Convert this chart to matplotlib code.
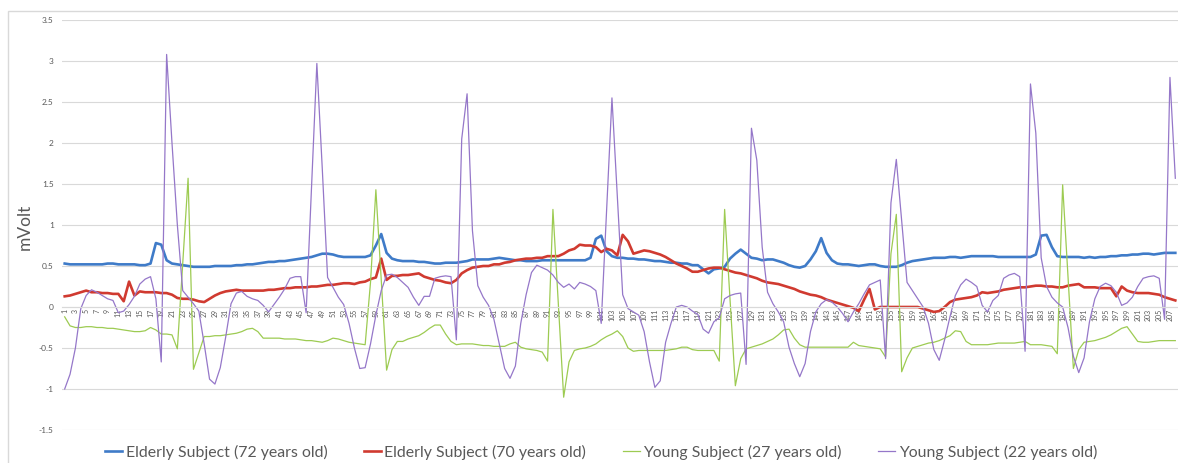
import matplotlib
matplotlib.use("Agg")
import matplotlib.pyplot as plt
from matplotlib.patches import Rectangle

plt.rcParams["font.family"] = ["Lato", "DejaVu Sans"]

# sample index (x categories)
samples = list(range(1, 209))

elderly_72 = [
    0.53, 0.52, 0.52, 0.52, 0.52, 0.52, 0.52, 0.52, 0.53, 0.53,
    0.52, 0.52, 0.52, 0.52, 0.51, 0.51, 0.53, 0.78, 0.76, 0.57,
    0.53, 0.52, 0.51, 0.50, 0.49, 0.49, 0.49, 0.49, 0.50, 0.50,
    0.50, 0.50, 0.51, 0.51, 0.52, 0.52, 0.53, 0.54, 0.55, 0.55,
    0.56, 0.56, 0.57, 0.58, 0.59, 0.60, 0.61, 0.63, 0.65, 0.65,
    0.64, 0.62, 0.61, 0.61, 0.61, 0.61, 0.61, 0.63, 0.75, 0.89,
    0.66, 0.59, 0.57, 0.56, 0.56, 0.56, 0.55, 0.55, 0.54, 0.53,
    0.53, 0.54, 0.54, 0.54, 0.55, 0.56, 0.58, 0.58, 0.58, 0.58,
    0.59, 0.60, 0.59, 0.58, 0.57, 0.57, 0.56, 0.56, 0.56, 0.57,
    0.57, 0.57, 0.57, 0.57, 0.57, 0.57, 0.57, 0.57, 0.60, 0.83,
    0.87, 0.68, 0.62, 0.60, 0.60, 0.59, 0.59, 0.58, 0.58, 0.57,
    0.56, 0.56, 0.55, 0.54, 0.54, 0.53, 0.53, 0.51, 0.51, 0.46,
    0.41, 0.46, 0.47, 0.49, 0.59, 0.65, 0.70, 0.65, 0.60, 0.59,
    0.57, 0.58, 0.58, 0.56, 0.54, 0.51, 0.49, 0.48, 0.50, 0.58,
    0.68, 0.84, 0.66, 0.57, 0.53, 0.52, 0.52, 0.51, 0.50, 0.51,
    0.52, 0.52, 0.50, 0.49, 0.49, 0.49, 0.51, 0.54, 0.56, 0.57,
    0.58, 0.59, 0.60, 0.60, 0.60, 0.61, 0.61, 0.60, 0.61, 0.62,
    0.62, 0.62, 0.62, 0.62, 0.61, 0.61, 0.61, 0.61, 0.61, 0.61,
    0.61, 0.64, 0.87, 0.88, 0.73, 0.62, 0.61, 0.61, 0.61, 0.61,
    0.60, 0.61, 0.60, 0.61, 0.61, 0.62, 0.62, 0.63, 0.63, 0.64,
    0.64, 0.65, 0.65, 0.64, 0.65, 0.66, 0.66, 0.66,
]

elderly_70 = [
    0.13, 0.14, 0.16, 0.18, 0.20, 0.18, 0.18, 0.17, 0.17, 0.16,
    0.16, 0.07, 0.31, 0.14, 0.19, 0.18, 0.18, 0.18, 0.17, 0.17,
    0.15, 0.11, 0.10, 0.10, 0.09, 0.07, 0.06, 0.10, 0.14, 0.17,
    0.19, 0.20, 0.21, 0.20, 0.20, 0.20, 0.20, 0.20, 0.21, 0.21,
    0.22, 0.23, 0.23, 0.24, 0.24, 0.24, 0.25, 0.25, 0.26, 0.27,
    0.27, 0.28, 0.29, 0.29, 0.28, 0.30, 0.31, 0.34, 0.36, 0.59,
    0.33, 0.38, 0.38, 0.39, 0.39, 0.40, 0.41, 0.37, 0.35, 0.33,
    0.32, 0.30, 0.29, 0.33, 0.41, 0.45, 0.48, 0.49, 0.50, 0.50,
    0.52, 0.52, 0.54, 0.55, 0.57, 0.58, 0.59, 0.59, 0.60, 0.60,
    0.62, 0.62, 0.62, 0.65, 0.69, 0.71, 0.76, 0.75, 0.75, 0.73,
    0.67, 0.71, 0.69, 0.63, 0.88, 0.80, 0.65, 0.67, 0.69, 0.68,
    0.66, 0.64, 0.61, 0.57, 0.53, 0.50, 0.47, 0.43, 0.43, 0.45,
    0.47, 0.48, 0.48, 0.46, 0.44, 0.42, 0.41, 0.39, 0.37, 0.35,
    0.32, 0.30, 0.29, 0.28, 0.26, 0.24, 0.22, 0.19, 0.17, 0.15,
    0.14, 0.12, 0.09, 0.07, 0.05, 0.03, 0.01, -0.01, -0.05, 0.09,
    0.22, -0.03, 0.00, 0.00, 0.00, 0.00, 0.00, 0.00, 0.00, 0.00,
    -0.02, -0.04, -0.06, -0.05, 0.00, 0.06, 0.09, 0.10, 0.11, 0.12,
    0.14, 0.18, 0.17, 0.18, 0.19, 0.21, 0.22, 0.23, 0.24, 0.24,
    0.25, 0.26, 0.26, 0.25, 0.25, 0.24, 0.24, 0.26, 0.27, 0.28,
    0.24, 0.24, 0.24, 0.23, 0.23, 0.23, 0.13, 0.25, 0.20, 0.18,
    0.17, 0.17, 0.17, 0.16, 0.15, 0.12, 0.10, 0.08,
]

young_27 = [
    -0.12, -0.23, -0.25, -0.25, -0.24, -0.24, -0.25, -0.25, -0.26, -0.26,
    -0.27, -0.28, -0.29, -0.30, -0.30, -0.29, -0.25, -0.28, -0.33, -0.33,
    -0.34, -0.51, 0.53, 1.57, -0.76, -0.56, -0.36, -0.36, -0.35, -0.35,
    -0.34, -0.33, -0.32, -0.30, -0.27, -0.26, -0.30, -0.38, -0.38, -0.38,
    -0.38, -0.39, -0.39, -0.39, -0.40, -0.41, -0.41, -0.42, -0.43, -0.41,
    -0.38, -0.39, -0.41, -0.43, -0.44, -0.45, -0.46, 0.30, 1.43, 0.33,
    -0.77, -0.52, -0.42, -0.42, -0.39, -0.37, -0.35, -0.31, -0.26, -0.22,
    -0.22, -0.33, -0.42, -0.46, -0.45, -0.45, -0.45, -0.46, -0.47, -0.47,
    -0.48, -0.48, -0.48, -0.45, -0.43, -0.49, -0.51, -0.52, -0.53, -0.55,
    -0.66, 1.19, 0.05, -1.10, -0.67, -0.53, -0.51, -0.50, -0.48, -0.45,
    -0.40, -0.36, -0.33, -0.29, -0.36, -0.50, -0.54, -0.53, -0.53, -0.53,
    -0.53, -0.53, -0.53, -0.52, -0.51, -0.49, -0.49, -0.52, -0.53, -0.53,
    -0.53, -0.53, -0.66, 1.19, 0.10, -0.96, -0.63, -0.51, -0.49, -0.47,
    -0.45, -0.42, -0.39, -0.34, -0.28, -0.27, -0.38, -0.46, -0.49, -0.49,
    -0.49, -0.49, -0.49, -0.49, -0.49, -0.49, -0.49, -0.43, -0.47, -0.48,
    -0.49, -0.50, -0.51, -0.61, 0.65, 1.13, -0.79, -0.62, -0.50, -0.48,
    -0.46, -0.44, -0.43, -0.41, -0.38, -0.35, -0.29, -0.30, -0.42, -0.46,
    -0.46, -0.46, -0.46, -0.45, -0.44, -0.44, -0.44, -0.44, -0.43, -0.42,
    -0.46, -0.46, -0.46, -0.47, -0.48, -0.57, 1.49, 0.37, -0.75, -0.52,
    -0.43, -0.42, -0.41, -0.39, -0.37, -0.34, -0.30, -0.26, -0.24, -0.33,
    -0.42, -0.43, -0.43, -0.42, -0.41, -0.41, -0.41, -0.41,
]

young_22 = [
    -1.00, -0.82, -0.50, -0.02, 0.14, 0.21, 0.18, 0.14, 0.10, 0.08,
    -0.07, -0.05, 0.03, 0.13, 0.28, 0.34, 0.37, 0.10, -0.67, 3.08,
    2.00, 1.00, 0.20, 0.12, 0.04, -0.05, -0.45, -0.88, -0.94, -0.74,
    -0.37, 0.04, 0.17, 0.19, 0.13, 0.10, 0.08, 0.02, -0.06, 0.03,
    0.12, 0.22, 0.35, 0.37, 0.37, -0.07, 1.45, 2.97, 1.70, 0.36,
    0.24, 0.12, 0.03, -0.20, -0.50, -0.75, -0.74, -0.45, -0.10, 0.20,
    0.39, 0.40, 0.36, 0.30, 0.24, 0.12, 0.02, 0.13, 0.13, 0.35,
    0.37, 0.38, 0.37, -0.40, 2.05, 2.60, 0.93, 0.26, 0.12, 0.02,
    -0.15, -0.45, -0.75, -0.87, -0.72, -0.20, 0.15, 0.42, 0.51, 0.48,
    0.45, 0.39, 0.30, 0.24, 0.28, 0.22, 0.30, 0.28, 0.25, 0.20,
    -0.20, 1.17, 2.55, 1.35, 0.15, -0.02, -0.06, -0.10, -0.30, -0.67,
    -0.98, -0.90, -0.43, -0.20, 0.00, 0.02, 0.00, -0.05, -0.09, -0.27,
    -0.32, -0.18, -0.13, 0.10, 0.14, 0.16, 0.17, -0.70, 2.18, 1.79,
    0.73, 0.18, 0.04, -0.06, -0.18, -0.49, -0.69, -0.85, -0.69, -0.30,
    -0.06, 0.04, 0.09, 0.06, 0.00, -0.08, -0.18, -0.06, 0.04, 0.16,
    0.27, 0.30, 0.33, -0.63, 1.27, 1.80, 1.05, 0.30, 0.20, 0.10,
    0.00, -0.20, -0.52, -0.65, -0.40, -0.12, 0.14, 0.27, 0.34, 0.30,
    0.25, 0.02, -0.06, 0.08, 0.14, 0.35, 0.39, 0.41, 0.37, -0.54,
    2.72, 2.12, 0.60, 0.25, 0.12, 0.05, 0.00, -0.25, -0.60, -0.80,
    -0.62, -0.18, 0.10, 0.25, 0.29, 0.26, 0.18, 0.02, 0.05, 0.12,
    0.25, 0.35, 0.37, 0.38, 0.35, -0.15, 2.80, 1.57,
]

series_labels = [
    "Elderly Subject (72 years old)",
    "Elderly Subject (70 years old)",
    "Young Subject (27 years old)",
    "Young Subject (22 years old)",
]

TEXT = "#595959"
GRID = "#d9d9d9"

fig = plt.figure(figsize=(11.78, 4.63), dpi=100)
# chart-area border (Excel style), cropped at right/bottom
fig.patches.append(Rectangle((8 / 1178, -0.1), 1.2, 1 - 11 / 463 + 0.1,
                             transform=fig.transFigure, fill=False,
                             edgecolor=GRID, linewidth=1.0))

ax = fig.add_axes((62 / 1178, 1 - 430 / 463, 1 - 62 / 1178, (430 - 20) / 463))

ax.plot(samples, elderly_72, color="#3f7bc8", linewidth=1.9, label=series_labels[0])
ax.plot(samples, elderly_70, color="#d03a30", linewidth=1.9, label=series_labels[1])
ax.plot(samples, young_27, color="#9dcb52", linewidth=0.9, label=series_labels[2])
ax.plot(samples, young_22, color="#9577c9", linewidth=0.9, label=series_labels[3])

ax.set_xlim(0.5, 208.5)
ax.set_ylim(-1.5, 3.5)

yticks = [-1.5, -1, -0.5, 0, 0.5, 1, 1.5, 2, 2.5, 3, 3.5]
ax.set_yticks(yticks)
ax.set_yticklabels(["%g" % t for t in yticks])
ax.yaxis.grid(True, color=GRID, linewidth=0.8)
ax.set_axisbelow(True)

# category axis sits on the zero line, every other label shown
ax.set_xticks(samples[::2])
ax.set_xticklabels([str(s) for s in samples[::2]])
ax.spines["bottom"].set_position(("data", 0))
ax.spines["bottom"].set_color(GRID)
ax.spines["bottom"].set_linewidth(0.8)
for side in ("left", "right", "top"):
    ax.spines[side].set_visible(False)
ax.tick_params(axis="x", length=0, pad=1.5, labelsize=5, labelcolor=TEXT,
               labelrotation=90)
ax.tick_params(axis="y", length=0, pad=6, labelsize=6, labelcolor=TEXT)

ax.set_ylabel("mVolt", fontsize=12.5, color=TEXT)
ax.yaxis.set_label_coords(-0.026, 0.495)

fig.legend(loc="center", bbox_to_anchor=(601 / 1178, 1 - 452 / 463), ncol=4,
           frameon=False, fontsize=11.4, handlelength=1.1, handletextpad=0.2,
           columnspacing=2.3, labelcolor=TEXT)

fig.savefig("out.png", dpi=100)
